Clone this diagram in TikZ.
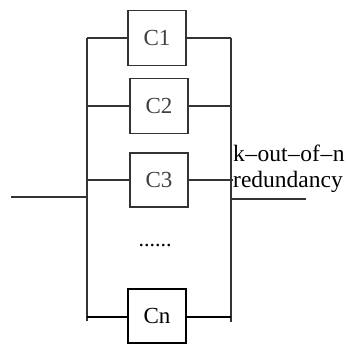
\documentclass[tikz,border=0pt]{standalone}
\usepackage{fontspec}
\setmainfont{Liberation Serif}
\begin{document}
\begin{tikzpicture}[x=1pt,y=-1pt,
  wire/.style={draw=black!80,line width=1.3pt},
  thickwire/.style={draw=black,line width=2.4pt},
  comp/.style={draw=black!80,line width=1.3pt,minimum width=58pt,minimum height=55pt,inner sep=0pt,font=\fontsize{23}{25}\selectfont,text=black!75},
  lbl/.style={inner sep=0pt,anchor=base west,font=\fontsize{23.5}{25}\selectfont}]
\useasboundingbox (0,0) rectangle (348,345);
\node[comp] (c1) at (157,38) {C1};
\node[comp] (c2) at (159,106) {C2};
\node[comp,minimum height=54pt] (c3) at (159,180) {C3};
\node[comp,draw=black,text=black,minimum height=54pt] (cn) at (157,316) {Cn};
\node[inner sep=0pt,font=\fontsize{22}{24}\selectfont] (dots) at (155,246) {......};
\coordinate (lt) at (87,38);
\coordinate (lb) at (87,321);
\coordinate (rt) at (231,38);
\coordinate (rb) at (231,322);
\coordinate (in) at (11,197);
\coordinate (inj) at (87,197);
\coordinate (outj) at (231,199);
\coordinate (out) at (306,199);
\draw[wire] (lt) -- (lb);
\draw[wire] (rt) -- (rb);
\draw[wire] (lt) -- (c1.west);
\draw[wire] (c1.east) -- (rt);
\draw[wire] (87,106) -- (c2.west);
\draw[wire] (c2.east) -- (231,106);
\draw[wire] (87,180) -- (c3.west);
\draw[wire] (c3.east) -- (233,180);
\draw[thickwire] (87,317) -- (cn.west |- 0,317);
\draw[thickwire] (cn.east |- 0,317) -- (231,317);
\draw[wire] (in) -- (inj);
\draw[wire] (outj) -- (out);
\node[lbl] (k) at (233,161) {k\kern0.5pt--\kern0.5pt out\kern0.5pt--\kern0.5pt of\kern0.5pt--\kern0.5pt n};
\node[lbl] (r) at (233,187) {redundancy};
\end{tikzpicture}
\end{document}
